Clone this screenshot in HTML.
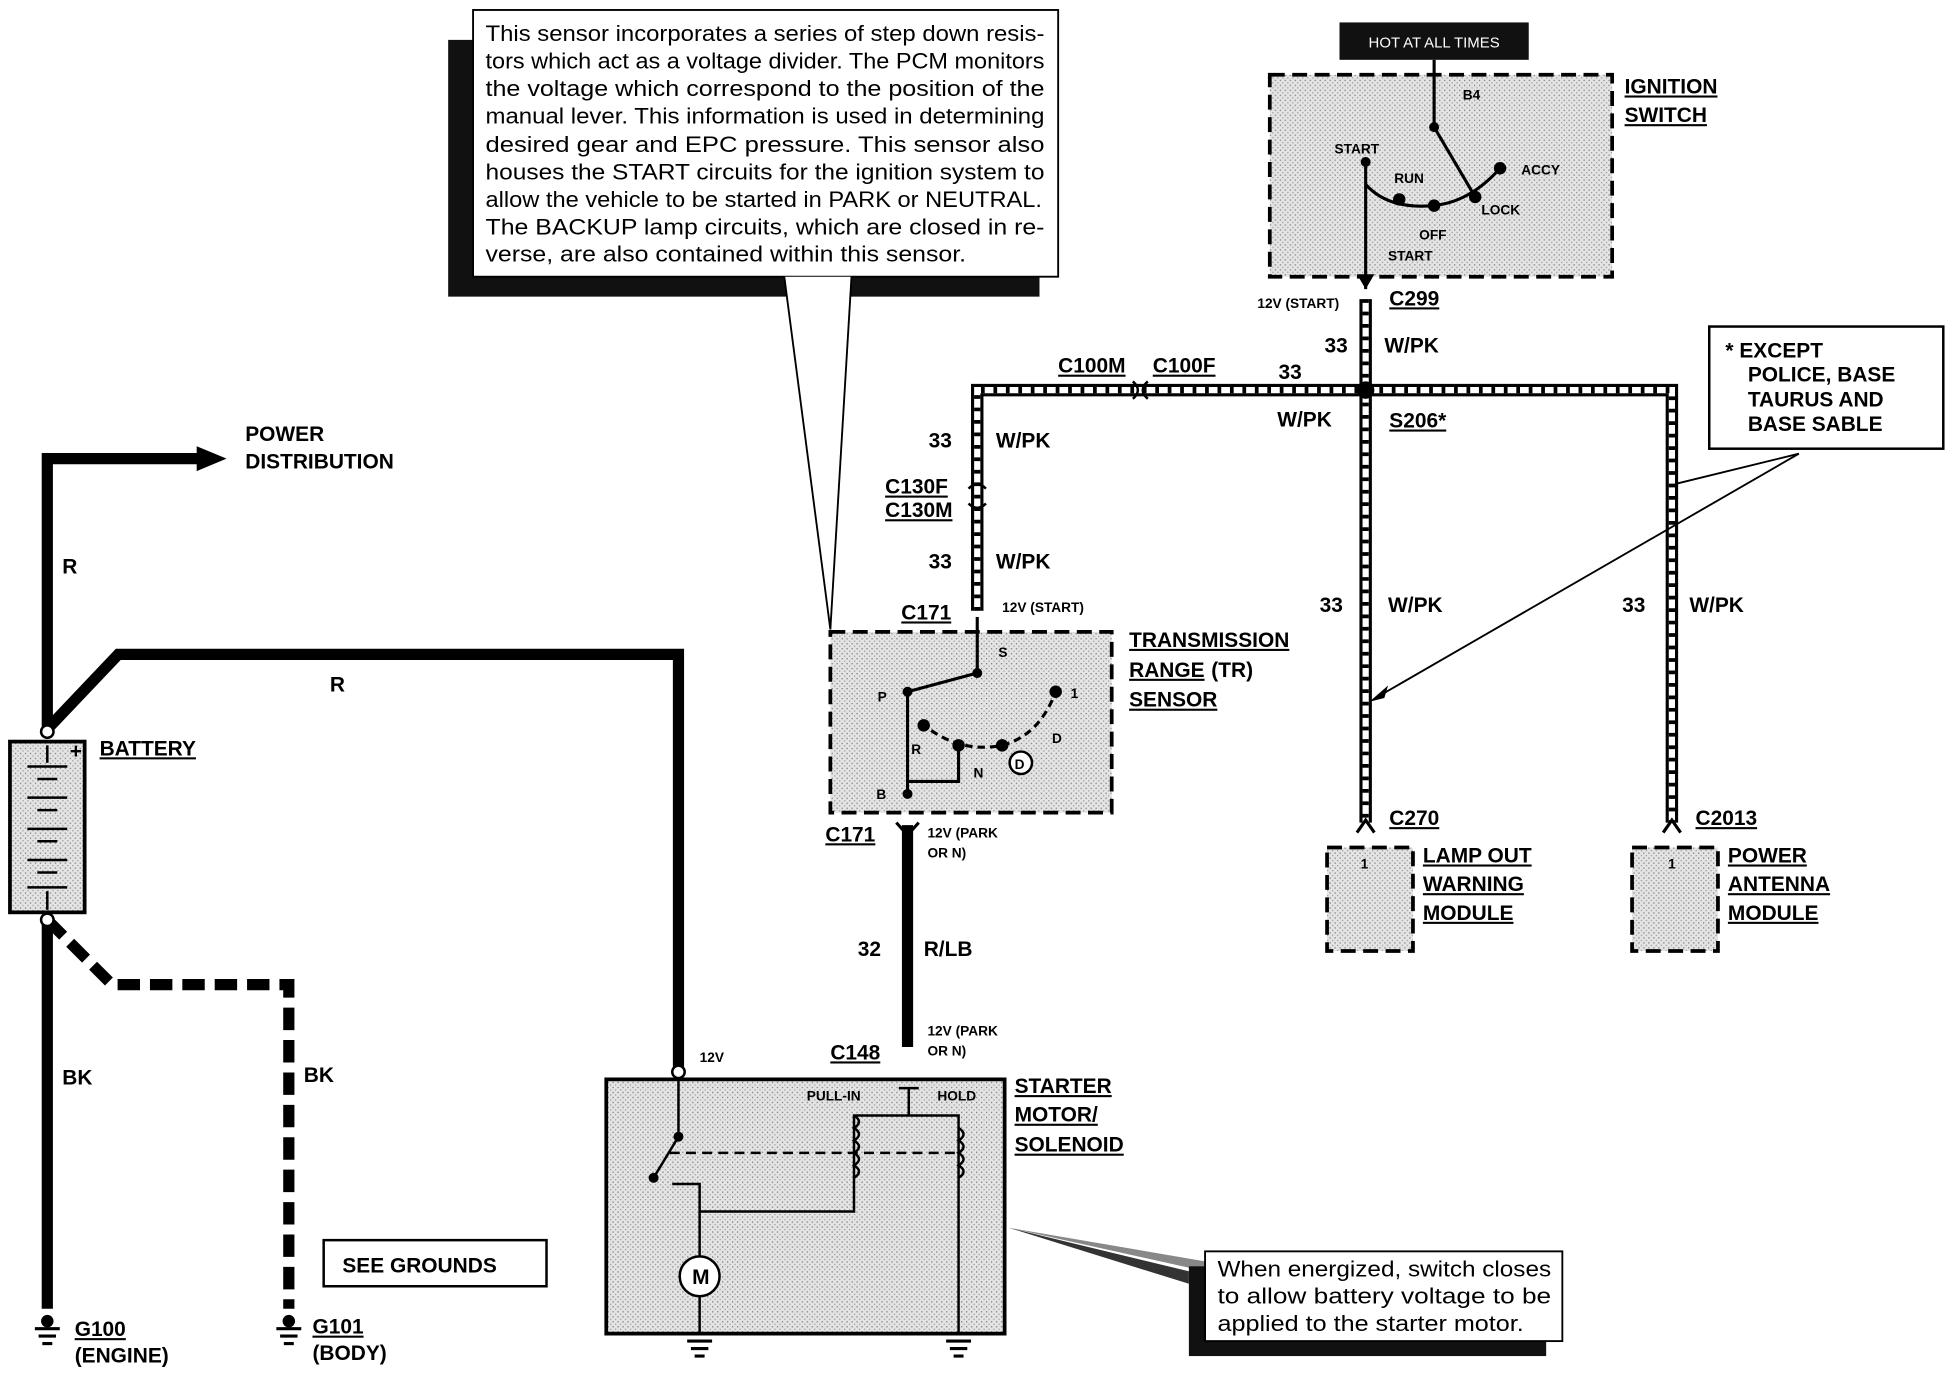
<!DOCTYPE html>
<html><head><meta charset="utf-8"><style>
html,body{margin:0;padding:0;background:#fff;}
svg{display:block;}
text{font-family:"Liberation Sans",sans-serif;fill:#000;}
.b{font-weight:bold;font-size:16.8px;}
.s{font-weight:bold;font-size:11px;}
.u{text-decoration:underline;}
</style></head><body>
<svg width="1952" height="1376" viewBox="0 0 1568 1104" preserveAspectRatio="none" xmlns="http://www.w3.org/2000/svg">
<defs>
<pattern id="st" width="4" height="4" patternUnits="userSpaceOnUse"><rect width="4" height="4" fill="#e4e4e4"/><rect x="0" y="0" width="1" height="1" fill="#777"/><rect x="2" y="2" width="1" height="1" fill="#999"/></pattern>
</defs>
<g fill="none" stroke="#000" stroke-width="9" stroke-linejoin="miter">
<path d="M38 585 V368 H160"/>
<path d="M38 585 L95 525 H545 V858"/>
<path d="M38 738 V1050"/>
<path d="M729 662 V840"/>
</g>
<polygon points="158,358 182,368 158,378" fill="#000"/>
<path d="M38 738 L90 790 H232 V1050" fill="none" stroke="#000" stroke-width="9" stroke-dasharray="18 8"/>
<g fill="none">
<path d="M1097 240 V313 M785 490 V313 H1343 V660 M1097 313 V660" stroke="#000" stroke-width="10"/>
<path d="M1097 240 V313 M785 490 V313 H1343 V660 M1097 313 V660" stroke="#fff" stroke-width="5"/>
<path d="M1097 240 V313 M785 490 V313 H1343 V660 M1097 313 V660" stroke="#000" stroke-width="5" stroke-dasharray="3 7"/>
</g>
<circle cx="1097" cy="313" r="7" fill="#000"/>
<rect x="8" y="595" width="60" height="137" fill="url(#st)" stroke="#000" stroke-width="3"/>
<g stroke="#000" stroke-width="2">
<line x1="38" y1="598" x2="38" y2="612"/><line x1="38" y1="715" x2="38" y2="730"/>
<line x1="22" y1="615" x2="54" y2="615"/><line x1="30" y1="625" x2="46" y2="625"/>
<line x1="22" y1="640" x2="54" y2="640"/><line x1="30" y1="650" x2="46" y2="650"/>
<line x1="22" y1="665" x2="54" y2="665"/><line x1="30" y1="675" x2="46" y2="675"/>
<line x1="22" y1="690" x2="54" y2="690"/><line x1="30" y1="700" x2="46" y2="700"/>
<line x1="22" y1="712" x2="54" y2="712"/>
</g>
<circle cx="38" cy="587" r="5" fill="#fff" stroke="#000" stroke-width="2"/>
<circle cx="38" cy="738" r="5" fill="#fff" stroke="#000" stroke-width="2"/>
<text class="b" x="56" y="608" font-size="12">+</text>
<rect x="360" y="32" width="475" height="206" fill="#111"/>
<rect x="380" y="8" width="470" height="214" fill="#fff" stroke="#000" stroke-width="1.5"/>
<polygon points="630,222 684,222 667,505" fill="#fff" stroke="none"/>
<line x1="630" y1="222" x2="667" y2="505" stroke="#000" stroke-width="1.5"/>
<line x1="684" y1="222" x2="667" y2="505" stroke="#000" stroke-width="1.5"/>
<g font-size="17.5">
<text x="390" y="33" textLength="449" lengthAdjust="spacingAndGlyphs">This sensor incorporates a series of step down resis-</text>
<text x="390" y="55" textLength="449" lengthAdjust="spacingAndGlyphs">tors which act as a voltage divider. The PCM monitors</text>
<text x="390" y="77" textLength="449" lengthAdjust="spacingAndGlyphs">the voltage which correspond to the position of the</text>
<text x="390" y="99" textLength="449" lengthAdjust="spacingAndGlyphs">manual lever. This information is used in determining</text>
<text x="390" y="122" textLength="449" lengthAdjust="spacingAndGlyphs">desired gear and EPC pressure. This sensor also</text>
<text x="390" y="144" textLength="449" lengthAdjust="spacingAndGlyphs">houses the START circuits for the ignition system to</text>
<text x="390" y="166" textLength="447" lengthAdjust="spacingAndGlyphs">allow the vehicle to be started in PARK or NEUTRAL.</text>
<text x="390" y="188" textLength="449" lengthAdjust="spacingAndGlyphs">The BACKUP lamp circuits, which are closed in re-</text>
<text x="390" y="210" textLength="386" lengthAdjust="spacingAndGlyphs">verse, are also contained within this sensor.</text>
</g>
<rect x="1076" y="18" width="152" height="30" fill="#111"/>
<text x="1152" y="38" style="fill:#fff" font-size="12" text-anchor="middle">HOT AT ALL TIMES</text>
<rect x="1020" y="60" width="275" height="162" fill="url(#st)" stroke="#000" stroke-width="3" stroke-dasharray="12 6"/>
<g stroke="#000" stroke-width="2.5" fill="none">
<line x1="1152" y1="48" x2="1152" y2="102"/>
<line x1="1152" y1="102" x2="1185" y2="158"/>
<line x1="1097" y1="130" x2="1097" y2="232"/>
<path d="M1097 148 Q1115 168 1150 165 Q1180 163 1205 135"/>
</g>
<g fill="#000"><circle cx="1152" cy="102" r="4"/><circle cx="1205" cy="135" r="5"/><circle cx="1124" cy="160" r="5"/><circle cx="1152" cy="165" r="5"/><circle cx="1185" cy="158" r="5"/><circle cx="1097" cy="130" r="4"/></g>
<polygon points="1090,220 1104,220 1097,232" fill="#000"/>
<g><text x="1175" y="80" class="s">B4</text><text x="1072" y="123" class="s">START</text><text x="1120" y="147" class="s">RUN</text><text x="1222" y="140" class="s">ACCY</text><text x="1190" y="172" class="s">LOCK</text><text x="1140" y="192" class="s">OFF</text><text x="1115" y="209" class="s">START</text></g>
<text class="b u" x="1305" y="75">IGNITION</text><text class="b u" x="1305" y="98">SWITCH</text>
<text class="s" x="1010" y="247">12V (START)</text>
<text class="b u" x="1116" y="245">C299</text>
<text class="b" x="1064" y="283">33</text><text class="b" x="1112" y="283">W/PK</text>
<text class="b u" x="850" y="299">C100M</text><text class="b u" x="926" y="299">C100F</text>
<text class="b" x="1027" y="304">33</text><text class="b" x="1026" y="342">W/PK</text>
<text class="b u" x="1116" y="343">S206*</text>
<path d="M910 306 q8 7 0 14 M922 306 q-8 7 0 14" stroke="#000" stroke-width="2" fill="none"/>
<text class="b" x="746" y="359">33</text><text class="b" x="800" y="359">W/PK</text>
<text class="b u" x="711" y="396">C130F</text><text class="b u" x="711" y="415">C130M</text>
<path d="M778 392 q7 -7 14 0 M778 404 q7 7 14 0" stroke="#000" stroke-width="2" fill="none"/>
<text class="b" x="746" y="456">33</text><text class="b" x="800" y="456">W/PK</text>
<text class="b u" x="724" y="497">C171</text><text class="s" x="805" y="491">12V (START)</text>
<rect x="1373" y="262" width="188" height="98" fill="#fff" stroke="#000" stroke-width="2"/>
<text class="b" x="1386" y="287">* EXCEPT</text><text class="b" x="1404" y="306">POLICE, BASE</text><text class="b" x="1404" y="326">TAURUS AND</text><text class="b" x="1404" y="346">BASE SABLE</text>
<line x1="1445" y1="364" x2="1347" y2="388" stroke="#000" stroke-width="1.5"/>
<line x1="1445" y1="364" x2="1105" y2="560" stroke="#000" stroke-width="1.5"/>
<polygon points="1100,563 1115,550 1112,560" fill="#000"/>
<text class="b" x="1060" y="491">33</text><text class="b" x="1115" y="491">W/PK</text>
<text class="b" x="1303" y="491">33</text><text class="b" x="1357" y="491">W/PK</text>
<text class="b u" x="1116" y="662">C270</text><text class="b u" x="1362" y="662">C2013</text>
<path d="M1090 668 l7 -10 l7 10 M1336 668 l7 -10 l7 10" stroke="#000" stroke-width="2.5" fill="none"/>
<rect x="1066" y="680" width="69" height="83" fill="url(#st)" stroke="#000" stroke-width="3" stroke-dasharray="12 6"/>
<rect x="1311" y="680" width="69" height="83" fill="url(#st)" stroke="#000" stroke-width="3" stroke-dasharray="12 6"/>
<text class="s" x="1093" y="697">1</text><text class="s" x="1340" y="697">1</text>
<text class="b u" x="1143" y="692">LAMP OUT</text><text class="b u" x="1143" y="715">WARNING</text><text class="b u" x="1143" y="738">MODULE</text>
<text class="b u" x="1388" y="692">POWER</text><text class="b u" x="1388" y="715">ANTENNA</text><text class="b u" x="1388" y="738">MODULE</text>
<rect x="667" y="507" width="226" height="145" fill="url(#st)" stroke="#000" stroke-width="3" stroke-dasharray="12 6"/>
<g stroke="#000" stroke-width="2.5" fill="none">
<line x1="785" y1="495" x2="785" y2="540"/>
<path d="M729 555 L785 540"/>
<path d="M729 555 V637"/>
<path d="M729 627 H770 V598"/>
<path d="M740 580 Q770 605 805 598 Q835 590 848 555" stroke-dasharray="6 4"/>
</g>
<g fill="#000"><circle cx="785" cy="540" r="4"/><circle cx="729" cy="555" r="4"/><circle cx="848" cy="555" r="5"/><circle cx="742" cy="582" r="5"/><circle cx="770" cy="598" r="5"/><circle cx="805" cy="598" r="5"/><circle cx="729" cy="637" r="4"/></g>
<circle cx="820" cy="612" r="9" fill="#fff" stroke="#000" stroke-width="2"/><text class="s" x="815" y="617">D</text>
<g><text class="s" x="802" y="527">S</text><text class="s" x="705" y="563">P</text><text class="s" x="860" y="560">1</text><text class="s" x="732" y="605">R</text><text class="s" x="782" y="624">N</text><text class="s" x="845" y="596">D</text><text class="s" x="704" y="641">B</text></g>
<text class="b u" x="907" y="519">TRANSMISSION</text><text class="b u" x="907" y="543">RANGE</text><text class="b" x="973" y="543">(TR)</text><text class="b u" x="907" y="567">SENSOR</text>
<text class="b u" x="663" y="675">C171</text>
<path d="M720 660 l9 10 l9 -10" stroke="#000" stroke-width="2.5" fill="none"/>
<text class="s" x="745" y="672">12V (PARK</text><text class="s" x="745" y="688">OR N)</text>
<text class="b" x="689" y="767">32</text><text class="b" x="742" y="767">R/LB</text>
<text class="s" x="745" y="831">12V (PARK</text><text class="s" x="745" y="847">OR N)</text>
<text class="b u" x="667" y="850">C148</text>
<text class="b" x="197" y="354">POWER</text><text class="b" x="197" y="376">DISTRIBUTION</text>
<text class="b" x="50" y="460">R</text><text class="b" x="265" y="555">R</text>
<text class="b u" x="80" y="606">BATTERY</text>
<text class="b" x="50" y="870">BK</text><text class="b" x="244" y="868">BK</text>
<rect x="260" y="995" width="179" height="37" fill="#fff" stroke="#000" stroke-width="2"/>
<text class="b" x="275" y="1021">SEE GROUNDS</text>
<g stroke="#000" stroke-width="2.5"><line x1="28" y1="1066" x2="48" y2="1066"/><line x1="31" y1="1072" x2="45" y2="1072"/><line x1="34" y1="1078" x2="42" y2="1078"/>
<line x1="222" y1="1066" x2="242" y2="1066"/><line x1="225" y1="1072" x2="239" y2="1072"/><line x1="228" y1="1078" x2="236" y2="1078"/></g>
<circle cx="38" cy="1060" r="5" fill="#000"/><circle cx="232" cy="1060" r="5" fill="#000"/>
<text class="b u" x="60" y="1072">G100</text><text class="b" x="60" y="1093">(ENGINE)</text>
<text class="b u" x="251" y="1070">G101</text><text class="b" x="251" y="1091">(BODY)</text>
<rect x="487" y="866" width="320" height="204" fill="url(#st)" stroke="#000" stroke-width="3"/>
<circle cx="545" cy="860" r="5" fill="#fff" stroke="#000" stroke-width="2"/>
<text class="s" x="562" y="852">12V</text>
<g stroke="#000" stroke-width="2" fill="none">
<path d="M545 865 V912 L525 945"/>
<path d="M538 925 H770" stroke-dasharray="8 5"/>
<path d="M540 950 H562 V1010"/>
<path d="M562 972 H686 V895 H770 V1070"/>
<path d="M686 895 q8 5 0 10 q8 5 0 10 q8 5 0 10 q8 5 0 10 q8 5 0 10"/>
<path d="M770 905 q8 5 0 10 q8 5 0 10 q8 5 0 10 q8 5 0 10"/>
<path d="M730 873 V895 M722 873 H738"/>
<line x1="562" y1="1040" x2="562" y2="1070"/>
</g>
<circle cx="545" cy="912" r="4" fill="#000"/><circle cx="525" cy="945" r="4" fill="#000"/>
<circle cx="562" cy="1024" r="16" fill="#fff" stroke="#000" stroke-width="2"/><text class="b" x="556" y="1030" font-size="13">M</text>
<text class="s" x="648" y="883">PULL-IN</text><text class="s" x="753" y="883">HOLD</text>
<g stroke="#000" stroke-width="2.5"><line x1="552" y1="1076" x2="572" y2="1076"/><line x1="555" y1="1082" x2="569" y2="1082"/><line x1="558" y1="1088" x2="566" y2="1088"/>
<line x1="760" y1="1076" x2="780" y2="1076"/><line x1="763" y1="1082" x2="777" y2="1082"/><line x1="766" y1="1088" x2="774" y2="1088"/></g>
<text class="b u" x="815" y="877">STARTER</text><text class="b u" x="815" y="900">MOTOR/</text><text class="b u" x="815" y="924">SOLENOID</text>
<polygon points="810,985 968,1012 968,1020" fill="#888"/>
<polygon points="810,985 955,1020 955,1030" fill="#333"/>
<rect x="955" y="1016" width="287" height="72" fill="#111"/>
<rect x="968" y="1004" width="287" height="72" fill="#fff" stroke="#000" stroke-width="1.5"/>
<g font-size="17.5"><text x="978" y="1024" textLength="268" lengthAdjust="spacingAndGlyphs">When energized, switch closes</text><text x="978" y="1046" textLength="268" lengthAdjust="spacingAndGlyphs">to allow battery voltage to be</text><text x="978" y="1068" textLength="246" lengthAdjust="spacingAndGlyphs">applied to the starter motor.</text></g>
</svg>
</body></html>
